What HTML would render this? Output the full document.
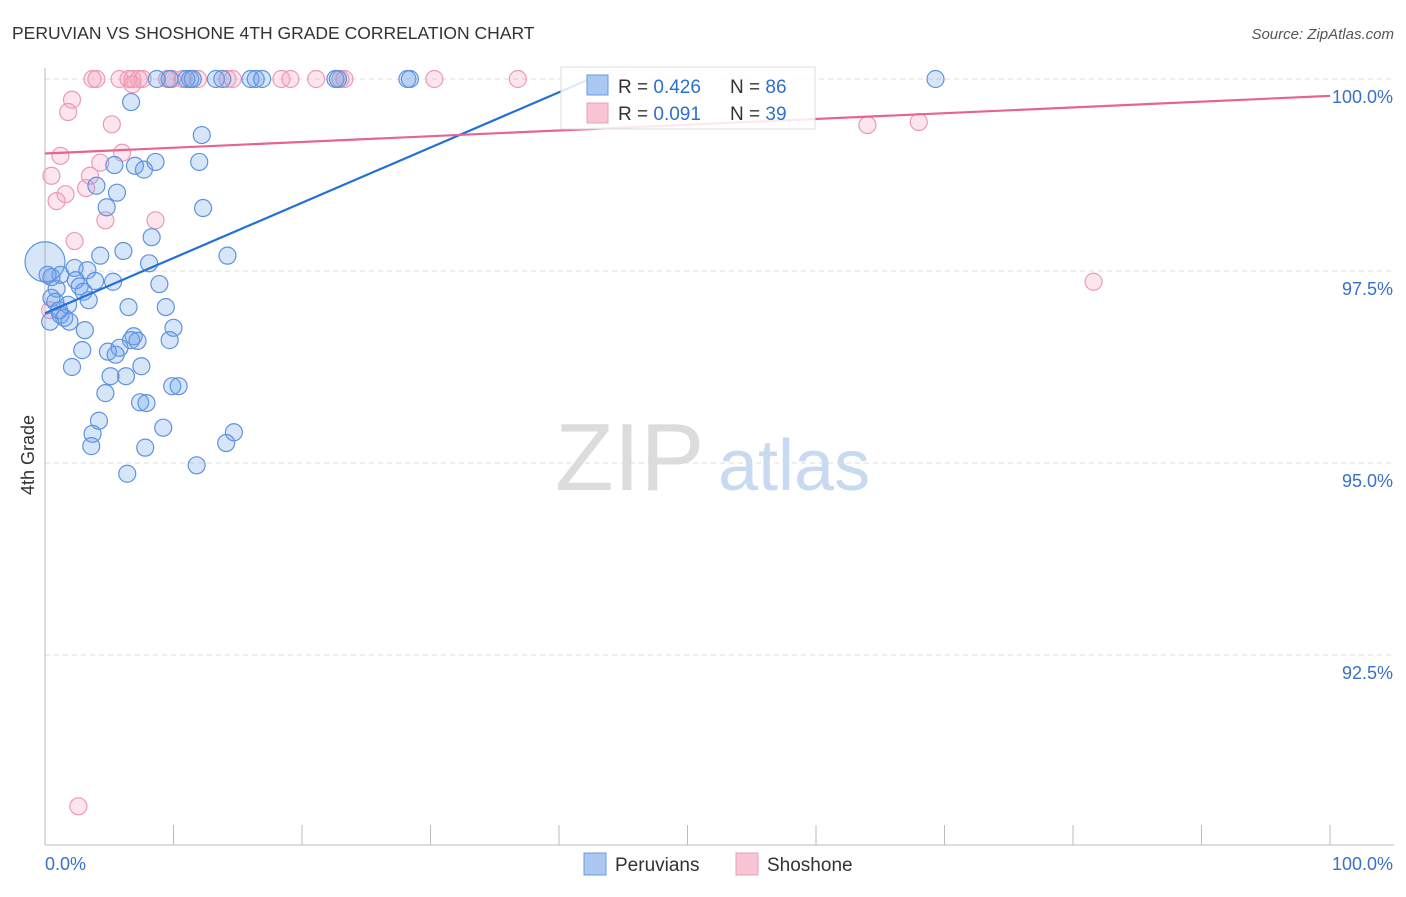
<!DOCTYPE html>
<html><head><meta charset="utf-8"><style>
body{margin:0;background:#fff;font-family:"Liberation Sans",sans-serif}
svg text{font-family:"Liberation Sans",sans-serif}
</style></head><body>
<svg id="c" width="1406" height="892" xmlns="http://www.w3.org/2000/svg">
<text x="12" y="39" font-size="17.5" fill="#333">PERUVIAN VS SHOSHONE 4TH GRADE CORRELATION CHART</text>
<text x="1394" y="39" font-size="15" fill="#555" text-anchor="end" font-style="italic">Source: ZipAtlas.com</text>
<text x="555" y="490" font-size="96" fill="#dcdcdc" font-family="Liberation Serif,serif">ZIP</text>
<text x="718" y="490" font-size="72" fill="#c8daf2">atlas</text>
<text x="34" y="455" font-size="18" fill="#333" text-anchor="middle" transform="rotate(-90 34 455)">4th Grade</text>
<g id="grid"></g><g id="marks"></g>
<g>
<rect x="561" y="67" width="254" height="62" fill="#fff" fill-opacity="0.85" stroke="#ddd"/>
<rect x="587" y="75" width="21" height="20" fill="#aac8f2" stroke="#6a9ae0"/>
<rect x="587" y="103" width="21" height="20" fill="#f9c4d4" stroke="#eaa0b8"/>
<text x="618" y="93" font-size="19" fill="#333">R = <tspan fill="#2c6fd0">0.426</tspan></text>
<text x="730" y="93" font-size="19" fill="#333">N = <tspan fill="#2c6fd0">86</tspan></text>
<text x="618" y="120" font-size="19" fill="#333">R = <tspan fill="#2c6fd0">0.091</tspan></text>
<text x="730" y="120" font-size="19" fill="#333">N = <tspan fill="#2c6fd0">39</tspan></text>
</g>
<g>
<rect x="584" y="853" width="22" height="22" fill="#aac8f2" stroke="#6a9ae0"/>
<text x="615" y="871" font-size="19" fill="#333">Peruvians</text>
<rect x="736" y="853" width="22" height="22" fill="#f9c4d4" stroke="#eaa0b8"/>
<text x="767" y="871" font-size="19" fill="#333">Shoshone</text>
</g>
</svg>
<script>
const yTicks=[100,97.5,95,92.5];
const yTickLabels=["100.0%","97.5%","95.0%","92.5%"];
const xTicks=[0,10,20,30,40,50,60,70,80,90,100];
const blueX=[8.7,9.7,11.0,11.3,11.5,13.3,13.8,16.0,16.4,16.9,22.6,22.8,28.2,28.4,69.3,6.7,12.2,12.0,8.6,5.4,7.0,7.7,4.0,5.6,4.8,12.3,8.3,6.1,14.2,4.3,8.1,2.3,3.3,1.2,2.4,0.5,3.9,8.9,5.3,2.7,0.9,3.0,0.5,1.8,3.4,6.5,9.4,1.2,1.5,1.9,0.4,10.0,3.1,6.9,6.7,7.2,9.7,5.8,4.9,2.9,5.5,7.5,2.1,6.3,5.1,4.7,9.9,10.4,7.4,7.9,4.2,9.2,3.7,14.7,3.6,14.1,7.8,11.8,6.4,0.2,0.8,1.1,0];
const blueY=[100,100,100,100,100,100,100,100,100,100,100,100,100,100,100,99.70,99.27,98.92,98.92,98.88,98.87,98.82,98.61,98.52,98.33,98.32,97.94,97.76,97.70,97.70,97.60,97.54,97.51,97.45,97.38,97.42,97.37,97.33,97.36,97.30,97.27,97.23,97.15,97.06,97.12,97.03,97.03,96.93,96.89,96.84,96.84,96.76,96.73,96.65,96.60,96.59,96.60,96.50,96.45,96.47,96.41,96.26,96.25,96.13,96.13,95.91,96.00,96.00,95.79,95.78,95.55,95.46,95.38,95.40,95.22,95.26,95.20,94.97,94.86,97.45,97.10,96.99,97.62];
const pinkX=[3.7,4.0,5.8,6.5,6.8,7.3,7.6,9.5,9.9,10.7,11.9,14.2,14.6,18.4,19.1,21.1,23.0,23.3,30.3,36.8,6.8,2.1,1.8,5.2,1.2,6.0,4.3,0.5,3.5,3.2,1.6,0.9,4.7,8.6,2.3,81.6,64.0,68.0,2.6,0.4];
const pinkY=[100,100,100,100,100,100,100,100,100,100,100,100,100,100,100,100,100,100,100,100,99.93,99.73,99.57,99.41,99.00,99.04,98.91,98.74,98.74,98.58,98.50,98.41,98.16,98.16,97.89,97.36,99.40,99.44,90.53,96.99];
const blueTrend=[[0,96.95],[42.4,100]];
const pinkTrend=[[0,99.03],[100,99.78]];
const X=v=>45+v*12.85, Y=v=>79+(100-v)*76.8;
const NS="http://www.w3.org/2000/svg";
function mk(t,a,p){const e=document.createElementNS(NS,t);for(const k in a)e.setAttribute(k,a[k]);p.appendChild(e);return e;}
const g=document.getElementById('grid'), m=document.getElementById('marks');
yTicks.forEach((t,i)=>{
 const l=mk('line',{x1:45,x2:1394,y1:Y(t),y2:Y(t),stroke:'#ddd','stroke-dasharray':'5,4'},g);
 
 
 const tx=mk('text',{x:1393,y:Y(t)+24,'font-size':18,fill:'#3a70c8','text-anchor':'end'},g);
 tx.textContent=yTickLabels[i];
 
 
});
const ax=mk('line',{x1:45,x2:1394,y1:845,y2:845,stroke:'#bbb'},g);


const ay=mk('line',{x1:45,x2:45,y1:68,y2:845,stroke:'#bbb'},g);


xTicks.forEach(t=>{
 const l=mk('line',{x1:X(t),x2:X(t),y1:825,y2:845,stroke:'#bbb'},g);
 
 
});
[[0,'0.0%','start'],[100,'100.0%','end']].forEach(a=>{
 const tx=mk('text',{x:a[0]==0?X(0):1393,y:870,'font-size':18,fill:'#3a70c8','text-anchor':a[2]},g);
 tx.textContent=a[1];
 
 
});
pinkX.forEach((x,i)=>{
 const c=mk('circle',{cx:X(x),cy:Y(pinkY[i]),r:8.5,fill:'rgba(244,160,188,0.28)',stroke:'#eb9ab5','stroke-width':1.2},m);
 
 
});
blueX.forEach((x,i)=>{
 const big=i===blueX.length-1;
 const c=mk('circle',{cx:X(x),cy:Y(blueY[i]),r:big?20:8.5,fill:'rgba(110,160,235,0.28)',stroke:'#5e93e0','stroke-width':1.2},m);
 
 
});
const bt=mk('line',{x1:X(blueTrend[0][0]),y1:Y(blueTrend[0][1]),x2:X(blueTrend[1][0]),y2:Y(blueTrend[1][1]),stroke:'#2170d8','stroke-width':2.2},m);


const pt=mk('line',{x1:X(pinkTrend[0][0]),y1:Y(pinkTrend[0][1]),x2:X(pinkTrend[1][0]),y2:Y(pinkTrend[1][1]),stroke:'#e8638f','stroke-width':2.2},m);


</script>
</body></html>
